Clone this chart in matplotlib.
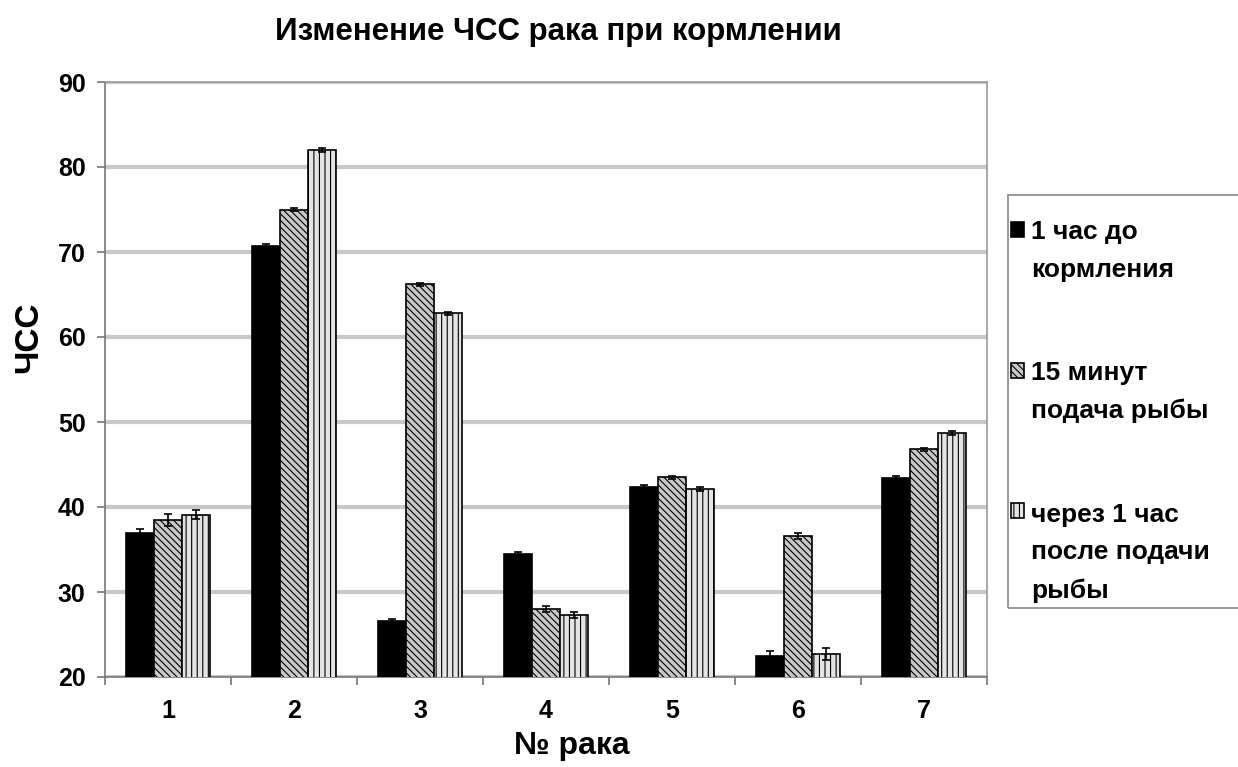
import matplotlib
matplotlib.use("Agg")
import matplotlib.pyplot as plt
import matplotlib.patches as mpatches
from matplotlib.legend_handler import HandlerPatch
import numpy as np

plt.rcParams['font.family'] = ['Liberation Sans', 'DejaVu Sans']
plt.rcParams['font.weight'] = 'bold'
plt.rcParams['hatch.linewidth'] = 0.8

# Данные ЧСС
groups = ["1", "2", "3", "4", "5", "6", "7"]
before = [36.9, 70.7, 26.6, 34.5, 42.4, 22.5, 43.4]
fish15 = [38.5, 75.0, 66.2, 28.0, 43.5, 36.6, 46.8]
after1h = [39.1, 82.0, 62.8, 27.3, 42.1, 22.7, 48.7]
err_before = [0.5, 0.2, 0.2, 0.2, 0.2, 0.6, 0.2]
err_fish15 = [0.7, 0.2, 0.2, 0.4, 0.2, 0.4, 0.2]
err_after1h = [0.5, 0.2, 0.2, 0.4, 0.2, 0.7, 0.2]
labels = ["1 час до\nкормления", "15 минут\nподача рыбы", "через 1 час\nпосле подачи\nрыбы"]

LEG_FS = 19
LEG_LS = 1.72


def top_line_handler(nlines):
    # маркер легенды на уровне первой строки подписи
    def f(legend, orig_handle, xdescent, ydescent, width, height, fontsize):
        dy = (nlines - 1) / 2 * LEG_LS * 0.94 * fontsize
        return mpatches.Rectangle((-xdescent, -ydescent + dy), width, height)
    return HandlerPatch(patch_func=f)


W, H = 1238, 767
fig = plt.figure(figsize=(W / 100, H / 100), dpi=100)
ax = fig.add_axes([105/W, 1-677/H, 882/W, 595/H])

x = np.arange(1, len(groups) + 1)
w = 0.22
ek = dict(ecolor="black", capsize=3, elinewidth=1.2, capthick=1.2)
b1 = ax.bar(x - w, before, w, color="black", edgecolor="black", linewidth=1.2,
            yerr=err_before, error_kw=ek, zorder=3)
b2 = ax.bar(x, fish15, w, color="#c8c8c8", edgecolor="black", linewidth=1.2,
            hatch="\\\\\\\\\\", yerr=err_fish15, error_kw=ek, zorder=3)
b3 = ax.bar(x + w, after1h, w, color="#e4e4e4", edgecolor="black", linewidth=1.2,
            hatch="|||", yerr=err_after1h, error_kw=ek, zorder=3)

ax.set_xlim(0.5, 7.5)
ax.set_ylim(20, 90)
ax.set_yticks(range(20, 91, 10))
ax.set_xticks(x)
ax.set_xticklabels(groups)
ax.set_xticks(np.arange(0.5, 7.6, 1), minor=True)
ax.tick_params(axis="x", which="major", length=0, labelsize=18, pad=16)
ax.tick_params(axis="x", which="minor", length=6, width=1.2, color="#777777", direction="out")
ax.tick_params(axis="y", labelsize=18, length=6, width=1.2, color="#777777", pad=8)

ax.grid(axis="y", color="#c8c8c8", linewidth=3, zorder=0)
for s in ax.spines.values():
    s.set_color("#999999")
    s.set_linewidth(1.2)
ax.spines["left"].set_color("#777777")
ax.spines["bottom"].set_color("#777777")

ax.set_ylabel("ЧСС", fontsize=24, fontweight="bold")
ax.yaxis.set_label_coords((44 - 105) / 882, (677 - 337) / 595)
ax.set_xlabel("№ рака", fontsize=23, fontweight="bold")
ax.xaxis.set_label_coords((572 - 105) / 882, (677 - 731) / 595)
fig.text(558/W, 1-32/H, "Изменение ЧСС рака при кормлении",
         ha="center", va="center", fontsize=22.5, fontweight="bold")

handles = [b1.patches[0], b2.patches[0], b3.patches[0]]
hmap = {h: top_line_handler(lab.count("\n") + 1) for h, lab in zip(handles, labels)}
leg = fig.legend(handles, labels, loc="upper left", handler_map=hmap,
                 bbox_to_anchor=(1011/W, 1-220/H),
                 fontsize=LEG_FS, frameon=False,
                 handlelength=0.5, handleheight=0.5, handletextpad=0.25,
                 labelspacing=3.0, borderpad=0, borderaxespad=0)
for t in leg.get_texts():
    t.set_fontweight("bold")
    t.set_linespacing(LEG_LS)
# рамка легенды (уходит за правый край)
fig.patches.append(mpatches.Rectangle((1008/W, 1-608/H), 250/W, 413/H,
                                      transform=fig.transFigure, fill=False,
                                      edgecolor="#888888", linewidth=1.2))

plt.savefig("out.png", dpi=100)
